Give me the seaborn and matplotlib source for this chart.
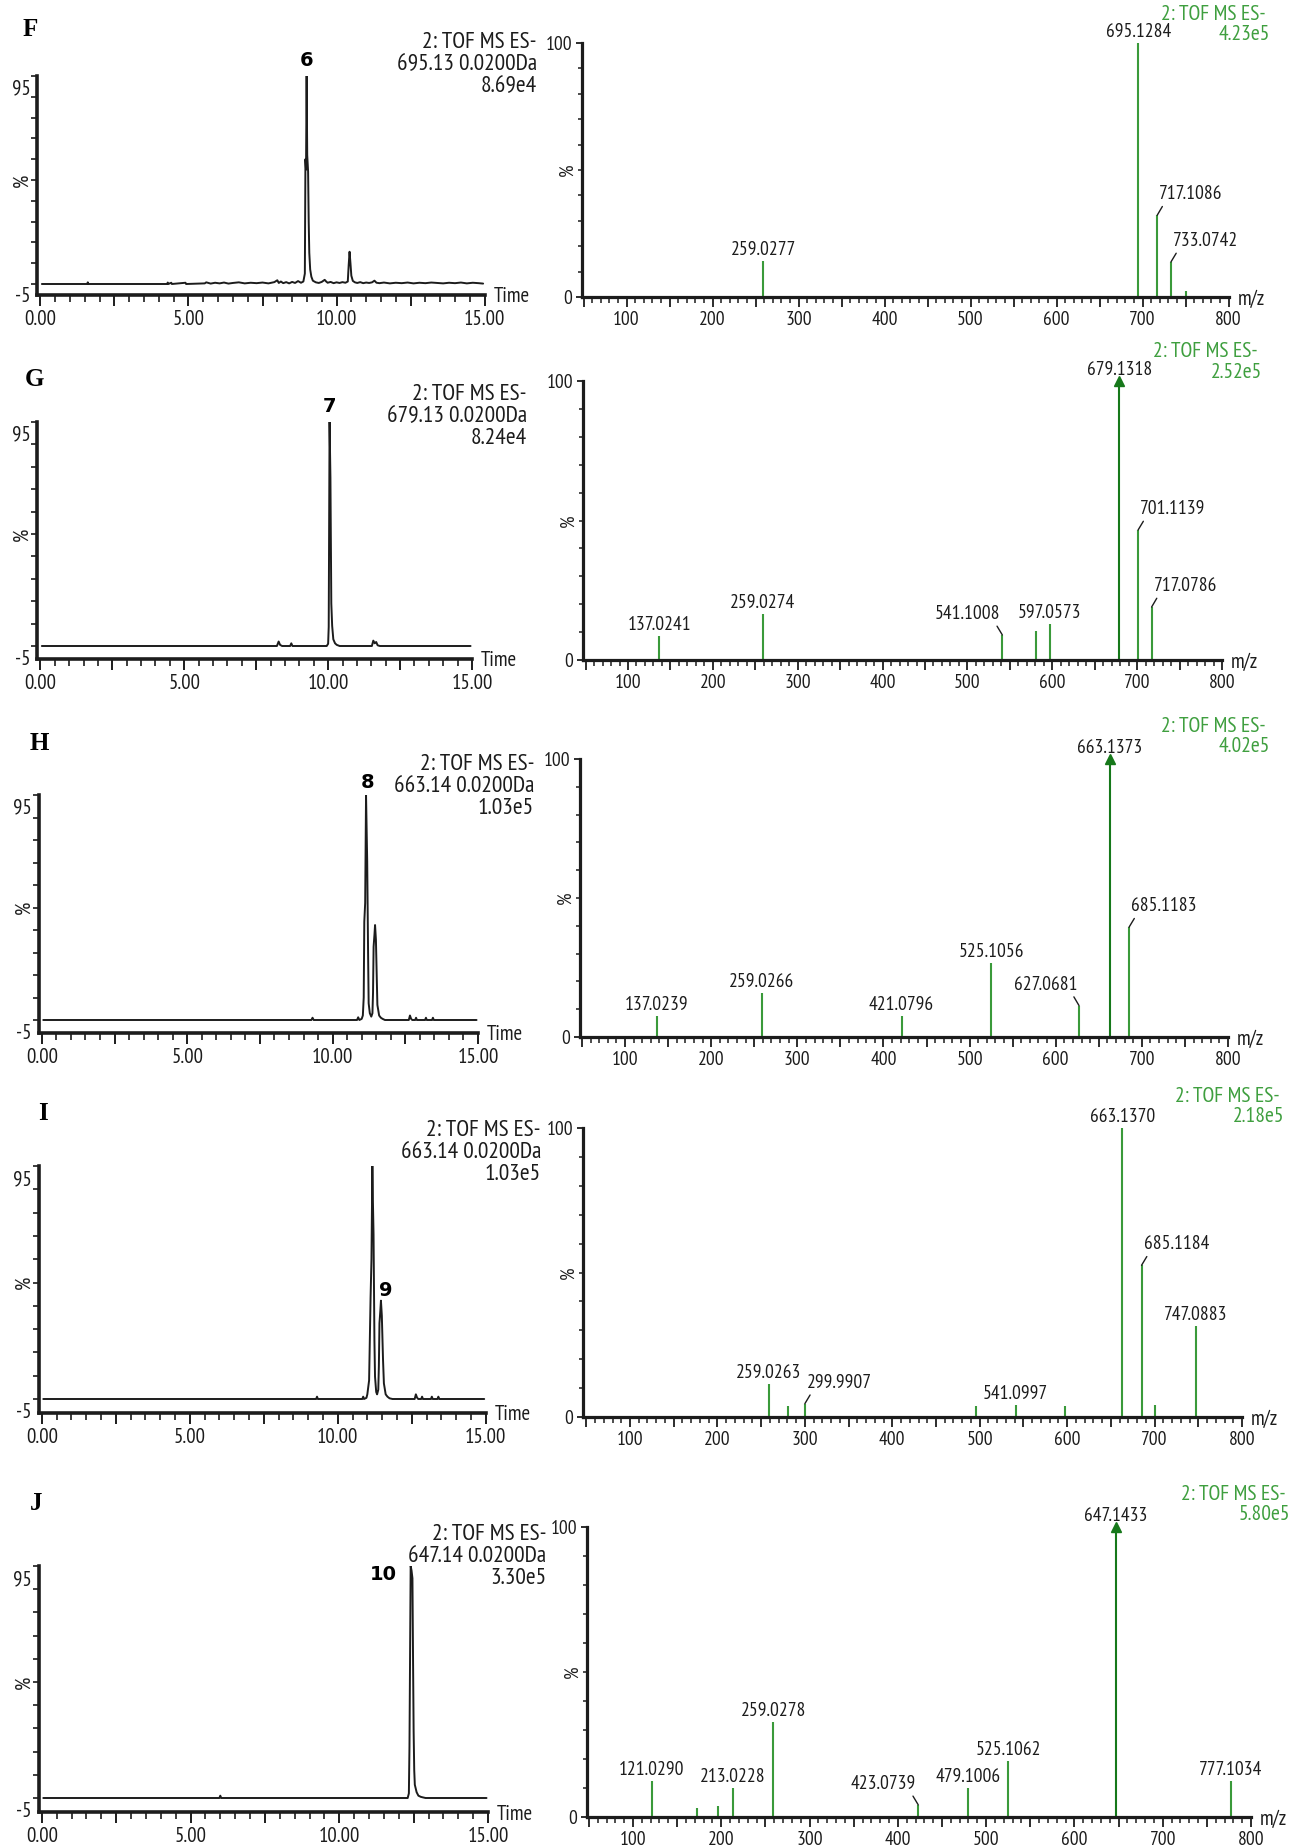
import matplotlib
matplotlib.use("Agg")
import matplotlib.pyplot as plt
from matplotlib import font_manager
from matplotlib.ticker import MultipleLocator, FixedLocator
import numpy as np
import pandas as pd
import seaborn as sns

# ---------------- extracted-ion chromatograms: (time / min, relative %) ----------------
f_trace = [(0.05, 0), (1.58, 0), (1.60, 0.8), (1.62, 0), (4.28, 0), (4.30, 0.7), (4.32, 0),
           (4.42, 0.6), (4.44, 0), (4.90, 0.6), (4.92, 0), (5.55, 0.3), (5.60, 0.8), (5.75, 0.2),
           (5.90, 0.6), (6.05, 0.3), (6.20, 0.7), (6.35, 0.2), (6.50, 0.5), (6.70, 0.8), (6.90, 0.3),
           (7.10, 0.6), (7.30, 0.4), (7.50, 0.7), (7.70, 0.3), (7.90, 0.9), (8.00, 1.8), (8.05, 0.5),
           (8.12, 1.2), (8.20, 0.4), (8.30, 0.9), (8.40, 0.3), (8.50, 1.0), (8.60, 0.5), (8.70, 1.4),
           (8.80, 0.6), (8.88, 1.2), (8.93, 5), (8.95, 60), (8.97, 55), (8.99, 100), (9.01, 62),
           (9.04, 54), (9.06, 30), (9.08, 15), (9.11, 7), (9.15, 3.5), (9.20, 1.6), (9.30, 0.8),
           (9.40, 0.5), (9.50, 1.0), (9.60, 2.0), (9.65, 1.2), (9.70, 0.6), (9.80, 1.0), (9.90, 0.4),
           (10.00, 0.8), (10.10, 0.5), (10.20, 0.9), (10.30, 0.6), (10.38, 1.2), (10.41, 9),
           (10.44, 15.5), (10.47, 10), (10.50, 4), (10.55, 1.5), (10.62, 0.8), (10.70, 0.5),
           (10.80, 0.9), (10.90, 0.4), (11.00, 0.7), (11.10, 0.5), (11.20, 0.8), (11.28, 1.6),
           (11.35, 0.6), (11.45, 0.4), (11.60, 0.7), (11.80, 0.3), (12.00, 0.6), (12.20, 0.4),
           (12.40, 0.7), (12.60, 0.3), (12.80, 0.6), (13.00, 0.4), (13.20, 0.7), (13.40, 0.5),
           (13.60, 0.3), (13.80, 0.6), (14.00, 0.4), (14.20, 0.7), (14.40, 0.3), (14.60, 0.6),
           (14.80, 0.4), (14.95, 0.2)]

g_trace = [(0.05, 0), (8.22, 0), (8.28, 2.0), (8.33, 0.5), (8.40, 0), (8.68, 0), (8.72, 1.2),
           (8.76, 0), (9.95, 0), (10.00, 1), (10.02, 8.5), (10.05, 100), (10.08, 75), (10.11, 19),
           (10.14, 9), (10.18, 3), (10.24, 1.2), (10.30, 0.5), (10.40, 0), (11.52, 0), (11.57, 2.4),
           (11.62, 1.2), (11.67, 1.8), (11.72, 0.3), (11.80, 0), (14.95, 0)]

h_trace = [(0.05, 0), (9.27, 0), (9.31, 1.0), (9.35, 0), (10.84, 0), (10.88, 1.2), (10.92, 0),
           (11.00, 0.5), (11.04, 2), (11.07, 10), (11.09, 43.7), (11.12, 52), (11.15, 100),
           (11.17, 85), (11.19, 70.4), (11.22, 30), (11.24, 7.4), (11.28, 3), (11.33, 1.5),
           (11.37, 3), (11.39, 12), (11.41, 32.6), (11.44, 38), (11.46, 42.2), (11.49, 35.6),
           (11.52, 18), (11.54, 6.7), (11.60, 2), (11.66, 1), (11.72, 0.5), (11.80, 0),
           (12.62, 0), (12.66, 2), (12.70, 0.5), (12.74, 0), (12.84, 0), (12.87, 1), (12.90, 0),
           (13.18, 0), (13.21, 1), (13.24, 0), (13.42, 0), (13.45, 1), (13.48, 0), (14.95, 0)]

i_trace = [(0.05, 0), (9.27, 0), (9.30, 1.0), (9.33, 0), (10.83, 0), (10.86, 1), (10.89, 0),
           (10.97, 0.5), (11.00, 2), (11.06, 8), (11.11, 43.6), (11.14, 60), (11.17, 100),
           (11.19, 84), (11.21, 70.8), (11.24, 25), (11.26, 9.6), (11.30, 3), (11.33, 2),
           (11.37, 4), (11.39, 14), (11.41, 32.5), (11.44, 38), (11.46, 42.2), (11.49, 35.8),
           (11.53, 17), (11.56, 6.7), (11.62, 2), (11.68, 1), (11.75, 0.3), (11.85, 0),
           (12.60, 0), (12.64, 2), (12.68, 0.6), (12.72, 0), (12.82, 0), (12.85, 1), (12.88, 0),
           (13.15, 0), (13.18, 1), (13.21, 0), (13.37, 0), (13.40, 1), (13.43, 0), (14.95, 0)]

j_trace = [(0.05, 0), (5.97, 0), (6.00, 1), (6.03, 0), (12.30, 0), (12.34, 2), (12.36, 22),
           (12.40, 100), (12.43, 98), (12.46, 94.7), (12.48, 60), (12.50, 28.7), (12.52, 12),
           (12.54, 5.7), (12.60, 2.5), (12.66, 1), (12.74, 0.5), (12.80, 0.3), (12.90, 0),
           (14.95, 0)]

chrom_mass = ["695.13 0.0200Da", "679.13 0.0200Da", "663.14 0.0200Da",
              "663.14 0.0200Da", "647.14 0.0200Da"]
chrom_scale = ["8.69e4", "8.24e4", "1.03e5", "1.03e5", "3.30e5"]
peak_numbers = ["6", "7", "8", "9", "10"]
panel_letters = ["F", "G", "H", "I", "J"]

# ---------------- MS spectra: m/z and relative intensity (%) ----------------
f_mz = [259.0277, 695.1284, 717.1086, 733.0742, 750.0]
f_int = [14.1, 100, 32.2, 13.8, 2.2]

g_mz = [137.0241, 259.0274, 541.1008, 581.0, 597.0573, 679.1318, 701.1139, 717.0786]
g_int = [8.6, 16.5, 9.0, 10.5, 13.0, 100, 46.6, 19.0]

h_mz = [137.0239, 259.0266, 421.0796, 525.1056, 627.0681, 663.1373, 685.1183]
h_int = [7.7, 15.8, 7.7, 26.6, 11.3, 100, 39.5]

i_mz = [259.0263, 281.0, 299.9907, 496.0, 541.0997, 597.5, 663.1370, 685.1184, 700.5, 747.0883]
i_int = [11.5, 3.9, 4.6, 3.9, 4.3, 3.9, 100, 52.5, 4.3, 31.4]

j_mz = [121.0290, 173.0, 196.0, 213.0228, 259.0278, 423.0739, 479.1006, 525.1062, 647.1433, 777.1034]
j_int = [12.5, 3.1, 3.7, 10.0, 32.9, 4.2, 10.0, 19.2, 100, 12.5]

spec_scale = ["4.23e5", "2.52e5", "4.02e5", "2.18e5", "5.80e5"]

# label placement for each peak: centred above, leader to the right/left, or no label
f_place = ["c", "c", "L", "L", None]
g_place = ["c", "c", "R", None, "c", "c", "L", "L"]
h_place = ["c", "c", "c", "c", "R", "c", "L"]
i_place = ["c", None, "L", None, "c", None, "c", "L", None, "c"]
j_place = ["c", None, None, "c", "c", "R", "c", "c", "c", "c"]
arrow_on_base = [False, True, True, False, True]

# ---------------- style ----------------
sns.set_theme(style="ticks")
installed = {f.name for f in font_manager.fontManager.ttflist}
# narrow sans faces, with a size factor that keeps text widths comparable
narrow_faces = [("Liberation Sans Narrow", 1.0), ("Arial Narrow", 1.0),
                ("PT Sans Narrow", 1.0), ("Archivo Narrow", 0.95),
                ("Roboto Condensed", 0.93), ("Fira Sans Condensed", 0.9),
                ("Liberation Sans", 0.86)]
SANS, K = "DejaVu Sans", 0.8
for name, factor in narrow_faces:
    if name in installed:
        SANS, K = name, factor
        break
plt.rcParams["font.family"] = [SANS, "DejaVu Sans"]
plt.rcParams["axes.unicode_minus"] = False

INK = "#1c1c1c"
GREEN = "#3a9a3a"
DGREEN = "#16781a"
GTEXT = "#3f9f3f"

W, H = 1294, 1847
fig = plt.figure(figsize=(W / 100, H / 100), dpi=100)
fig.patch.set_facecolor("white")


def frect(left, right, top, bottom):
    return [left / W, 1 - bottom / H, (right - left) / W, (bottom - top) / H]


def ftext(x, y, s, **kw):
    fig.text(x / W, 1 - y / H, s, **kw)


# panel geometry in pixels
# chromatogram: x of t=0, x of t=15, y of 100 %, y of 0 %, y of time axis
chrom_geo = [(40.4, 484.6, 76, 284, 295),
             (40.4, 472.0, 422, 646, 659),
             (41.8, 478.0, 795, 1020, 1033),
             (41.8, 485.7, 1166, 1399, 1413),
             (41.8, 488.0, 1566, 1798, 1812)]
# spectrum: x of intensity axis, x of m/z 100, x of m/z 800, y of 100 %, y of 0 %
spec_geo = [(582, 626.5, 1228.5, 43, 297),
            (583, 628.0, 1222.0, 381, 660),
            (580, 625.0, 1228.0, 759, 1037),
            (583, 630.0, 1242.0, 1128, 1417),
            (587, 633.0, 1251.0, 1527, 1817)]
chrom_head = [(537, 43), (527, 395), (534, 764), (541, 1131), (546, 1534)]
spec_head = [(1266, 14), (1258, 352), (1266, 727), (1280, 1096), (1286, 1494)]
letter_xy = [(30, 30), (34, 380), (39, 743), (43, 1113), (36, 1503)]
number_xy = [(307, 60), (330, 407), (368, 783), (386, 1290), (383, 1575)]

traces = [f_trace, g_trace, h_trace, i_trace, j_trace]
spectra = [(f_mz, f_int, f_place), (g_mz, g_int, g_place), (h_mz, h_int, h_place),
           (i_mz, i_int, i_place), (j_mz, j_int, j_place)]


def chromatogram(k):
    x0, x15, ytop, ybase, yaxis = chrom_geo[k]
    pxm = (x15 - x0) / 15.0
    yx = x0 - 3
    ppc = (ybase - ytop) / 100.0
    ax = fig.add_axes(frect(yx, x15, ytop, yaxis))
    df = pd.DataFrame(traces[k], columns=["time", "pct"])
    sns.lineplot(data=df, x="time", y="pct", ax=ax, color=INK, lw=1.4,
                 estimator=None, sort=False)
    ax.set_xlim(-(x0 - yx) / pxm, 15)
    ax.set_ylim(-(yaxis - ybase) / ppc, 100)
    ax.set_xlabel("")
    ax.set_ylabel("")
    ax.set_facecolor("none")
    for s in ["top", "right"]:
        ax.spines[s].set_visible(False)
    for s in ["left", "bottom"]:
        ax.spines[s].set_linewidth(2.6)
        ax.spines[s].set_color(INK)
    xt = np.arange(0, 15.01, 2.5)
    ax.set_xticks(xt)
    ax.set_xticklabels([f"{v:.2f}" if v % 5 == 0 else "" for v in xt])
    ax.xaxis.set_minor_locator(MultipleLocator(0.5))
    ax.tick_params(axis="x", which="major", length=8, width=1.4, direction="out",
                   pad=3, labelsize=15 * K, colors=INK)
    ax.tick_params(axis="x", which="minor", length=5, width=1.2, direction="out", color=INK)
    ax.set_yticks([-5, 95])
    ax.set_yticklabels(["-5", "95"])
    ax.yaxis.set_minor_locator(FixedLocator(list(range(0, 101, 10))))
    ax.tick_params(axis="y", which="major", length=0, pad=5, labelsize=15 * K, colors=INK)
    ax.tick_params(axis="y", which="minor", length=4, width=1.2, direction="out", color=INK)
    ax.annotate("%", xy=(0, 50), xycoords=("axes fraction", "data"), xytext=(-15, 0),
                textcoords="offset pixels", rotation=90, ha="center", va="center",
                fontsize=15 * K, color=INK)
    ax.annotate("Time", xy=(1, 0), xycoords="axes fraction", xytext=(9, -2),
                textcoords="offset pixels", ha="left", va="center",
                fontsize=15 * K, color=INK)
    hx, hy = chrom_head[k]
    for n, s in enumerate(["2: TOF MS ES-", chrom_mass[k], chrom_scale[k]]):
        ftext(hx, hy + 22 * n, s, ha="right", va="center", fontsize=16.8 * K, color=INK)
    lx, ly = letter_xy[k]
    ftext(lx, ly, panel_letters[k], ha="center", va="center", fontsize=18,
          fontweight="bold", family=["Liberation Serif", "DejaVu Serif"], color="black")
    nx, ny = number_xy[k]
    ftext(nx, ny, peak_numbers[k], ha="center", va="center", fontsize=14,
          fontweight="bold", family=["DejaVu Sans"], color="black")


def spectrum(k):
    yx, x100, x800, ytop, ybot = spec_geo[k]
    s = (x800 - x100) / 700.0
    xmin = 100 - (x100 - yx) / s
    ax = fig.add_axes(frect(yx, x800, ytop, ybot))
    mz, inten, place = spectra[k]
    base = inten.index(100)
    cols = [DGREEN if (i == base and arrow_on_base[k]) else GREEN for i in range(len(mz))]
    ax.vlines(mz, 0, inten, colors=cols, lw=1.5)
    if arrow_on_base[k]:
        ax.plot([mz[base]], [100], ls="none", marker="^", ms=7, color=DGREEN, clip_on=False)
    ax.set_xlim(xmin, 800)
    ax.set_ylim(0, 100)
    ax.set_facecolor("none")
    for sp in ["top", "right"]:
        ax.spines[sp].set_visible(False)
    for sp in ["left", "bottom"]:
        ax.spines[sp].set_linewidth(2.3)
        ax.spines[sp].set_color(INK)
    xt = [v for v in range(50, 801, 50) if v >= xmin]
    ax.set_xticks(xt)
    ax.set_xticklabels([str(v) if v % 100 == 0 else "" for v in xt])
    ax.xaxis.set_minor_locator(MultipleLocator(10))
    ax.tick_params(axis="x", which="major", length=7, width=1.3, direction="out",
                   pad=3, labelsize=14 * K, colors=INK)
    ax.tick_params(axis="x", which="minor", length=4, width=1.1, direction="out", color=INK)
    ax.set_yticks([0, 100])
    ax.set_yticklabels(["0", "100"])
    ax.yaxis.set_minor_locator(MultipleLocator(10))
    ax.tick_params(axis="y", which="major", length=4, width=1.3, direction="out",
                   pad=3, labelsize=14 * K, colors=INK)
    ax.tick_params(axis="y", which="minor", length=3, width=1.1, direction="out", color=INK)
    ax.annotate("%", xy=(0, 50), xycoords=("axes fraction", "data"), xytext=(-14, 0),
                textcoords="offset pixels", rotation=90, ha="center", va="center",
                fontsize=14 * K, color=INK)
    ax.annotate("m/z", xy=(1, 0), xycoords="axes fraction", xytext=(9, -2),
                textcoords="offset pixels", ha="left", va="center",
                fontsize=15 * K, color=INK)
    for m, h, p in zip(mz, inten, place):
        if p is None:
            continue
        lab = f"{m:.4f}"
        if p == "c":
            ax.annotate(lab, (m, h), xytext=(0, 2), textcoords="offset pixels",
                        ha="center", va="bottom", fontsize=14 * K, color=INK,
                        annotation_clip=False)
        else:
            left = p == "L"
            ax.annotate(lab, (m, h), xytext=(2 if left else -2, 12),
                        textcoords="offset pixels", ha="left" if left else "right",
                        va="bottom", fontsize=14 * K, color=INK, annotation_clip=False,
                        arrowprops=dict(arrowstyle="-", color=INK, lw=1.0, shrinkA=0,
                                        shrinkB=0, relpos=(0.1 if left else 0.9, 0.12)))
    hx, hy = spec_head[k]
    ftext(hx, hy, "2: TOF MS ES-", ha="right", va="center", fontsize=15.5 * K, color=GTEXT)
    ftext(hx + 4, hy + 20, spec_scale[k], ha="right", va="center", fontsize=15.5 * K,
          color=GTEXT)


for k in range(5):
    chromatogram(k)
    spectrum(k)

fig.savefig("out.png", dpi=100, facecolor="white")
